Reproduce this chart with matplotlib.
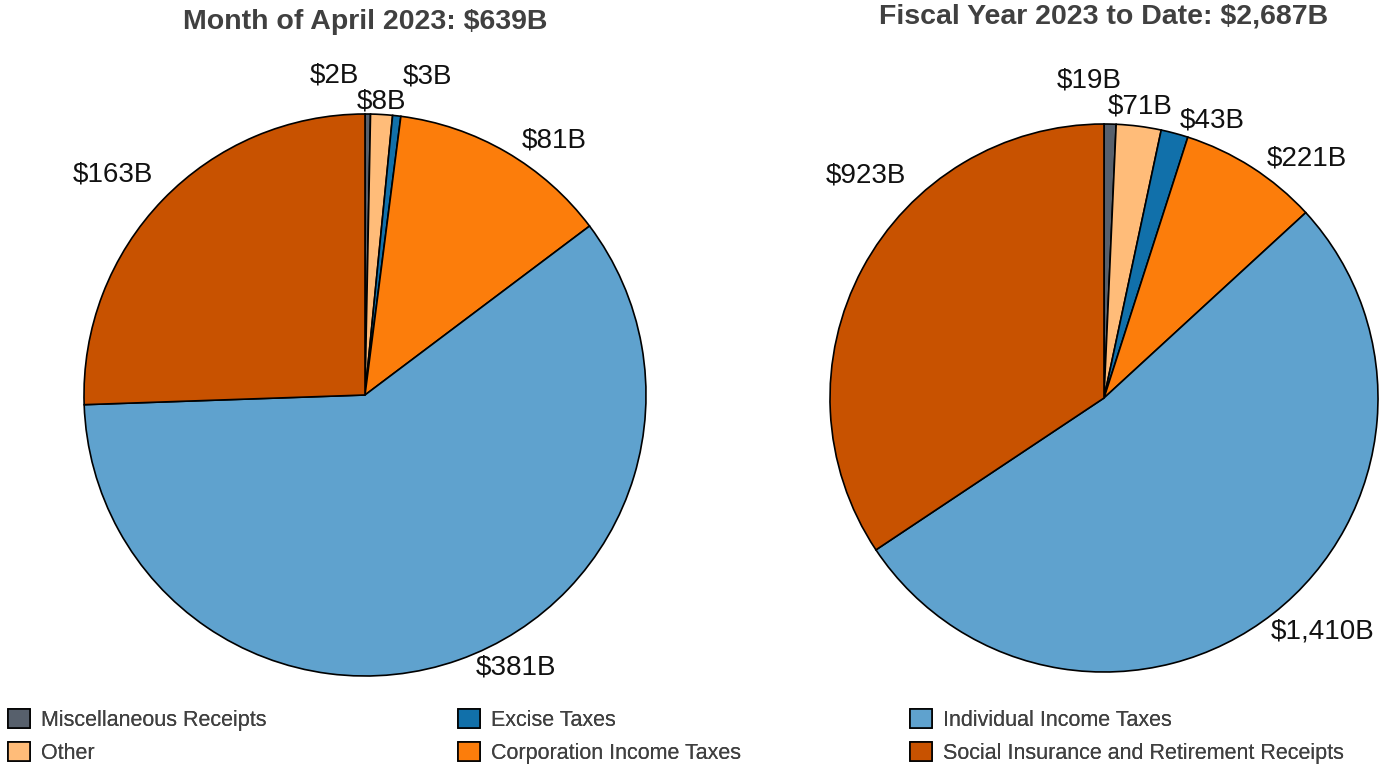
import numpy as np
import matplotlib.pyplot as plt
from matplotlib import font_manager

plt.rcParams['font.family'] = ['Liberation Sans', 'DejaVu Sans']

# pick the regular-width bold file (family lookup can land on the Narrow one)
bold_files = [f for f in font_manager.findSystemFonts()
              if f.endswith('LiberationSans-Bold.ttf')]
if bold_files:
    title_font = font_manager.FontProperties(fname=bold_files[0], size=20.5)
else:
    title_font = font_manager.FontProperties(family='DejaVu Sans', weight='bold', size=18)

categories = ['Miscellaneous Receipts', 'Other', 'Excise Taxes',
              'Corporation Income Taxes', 'Individual Income Taxes',
              'Social Insurance and Retirement Receipts']
colors = ['#57606c', '#ffbc79', '#1170aa', '#fc7d0b', '#5fa2ce', '#c85200']

april_values = [2, 8, 3, 81, 381, 163]
april_labels = ['$2B', '$8B', '$3B', '$81B', '$381B', '$163B']
fytd_values = [19, 71, 43, 221, 1410, 923]
fytd_labels = ['$19B', '$71B', '$43B', '$221B', '$1,410B', '$923B']

W, H = 1386, 769
fig = plt.figure(figsize=(W / 100, H / 100), dpi=100)

# label nudges from the pie edge, in pixels (x right, y down)
april_nudge = [(-33, -39), (0, -13), (31, -39), (48, -12), (57, 8), (-50, -25)]
fytd_nudge = [(-21, -44), (1, -20), (38, -13), (55, -9), (49, 18), (3, -93)]


def draw_pie(cx, cy, r, values, labels, nudges, title, ty):
    ax = fig.add_axes([(cx - r) / W, 1 - (cy + r) / H, 2 * r / W, 2 * r / H])
    wedges, _ = ax.pie(values, colors=colors, startangle=90, counterclock=False,
                       radius=1, wedgeprops=dict(edgecolor='black', linewidth=1.2))
    ax.set_xlim(-1, 1)
    ax.set_ylim(-1, 1)
    ax.set_aspect('equal')
    ax.axis('off')
    for w, lab, (dx, dy) in zip(wedges, labels, nudges):
        mid = np.deg2rad((w.theta1 + w.theta2) / 2)
        ax.annotate(lab, xy=(np.cos(mid), np.sin(mid)),
                    xytext=(dx * 0.72, -dy * 0.72), textcoords='offset points',
                    ha='center', va='center', fontsize=20, color='#111111')
    fig.text(cx / W, 1 - ty / H, title, ha='center', va='center',
             fontproperties=title_font, color='#404040')
    return wedges


wedges = draw_pie(365, 395, 281, april_values, april_labels, april_nudge,
                  'Month of April 2023: $639B', 22)
draw_pie(1104, 398, 274, fytd_values, fytd_labels, fytd_nudge,
         'Fiscal Year 2023 to Date: $2,687B', 17)

# three legend columns, two entries each
col_x = [3, 453, 905]
for i, x in enumerate(col_x):
    leg = fig.legend(wedges[2 * i:2 * i + 2], categories[2 * i:2 * i + 2],
                     loc='lower left', bbox_to_anchor=(x / W, 0.0),
                     frameon=False, fontsize=15.5, labelcolor='#404040',
                     handlelength=1.0, handleheight=1.0, handletextpad=0.5,
                     labelspacing=0.5, borderaxespad=0.25, borderpad=0.0)
    fig.add_artist(leg)

fig.savefig('out.png', dpi=100)
